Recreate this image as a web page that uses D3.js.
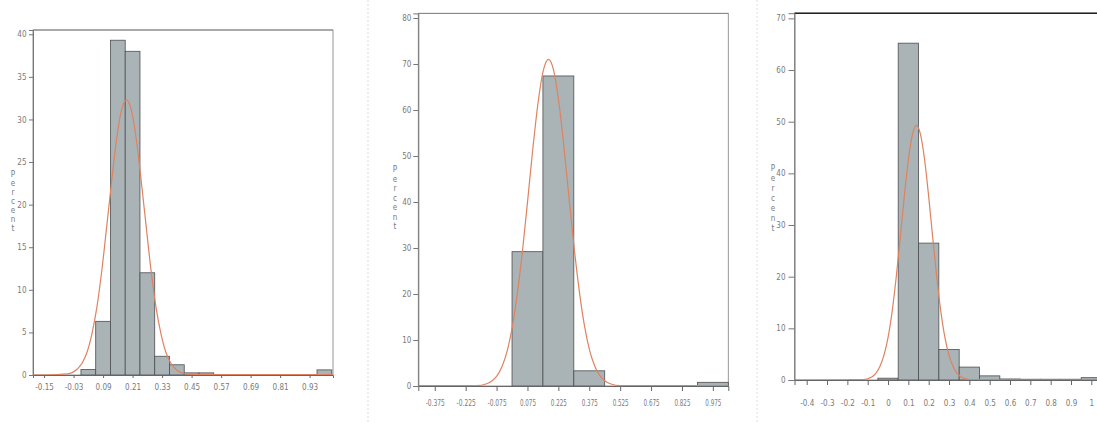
<!DOCTYPE html>
<html>
<head>
<meta charset="utf-8">
<script src="https://cdn.jsdelivr.net/npm/d3@7"></script>
<style>
  body { margin: 0; background: #fff; }
  text { font-family: "DejaVu Sans Condensed", "DejaVu Sans", sans-serif; fill: #7a7a7a; }
</style>
</head>
<body>
<svg id="chart" width="1097" height="423"></svg>
<script>
// ---- panel 1 data
const p1Bin = 0.06;
const p1Mid = [0.03, 0.09, 0.15, 0.21, 0.27, 0.33, 0.39, 0.45, 0.51, 0.99];
const p1Pct = [0.65, 6.3, 39.3, 38.0, 12.0, 2.2, 1.2, 0.25, 0.25, 0.6];
const p1CurveX = [-0.195, -0.1, -0.055, -0.015, 0.005, 0.025, 0.045, 0.065, 0.085, 0.105, 0.125, 0.145, 0.165, 0.185,
  0.205, 0.225, 0.245, 0.265, 0.285, 0.305, 0.325, 0.345, 0.365, 0.385, 0.425, 0.5, 1.025];
const p1CurveY = [0, 0.05, 0.13, 0.7, 1.4, 2.7, 4.9, 8.0, 12.3, 17.5, 22.8, 27.7, 31.1, 32.3,
  31.1, 27.7, 22.8, 17.5, 12.3, 8.0, 4.9, 2.7, 1.4, 0.7, 0.13, 0.05, 0.05];
const p1XTicks = [-0.15, -0.03, 0.09, 0.21, 0.33, 0.45, 0.57, 0.69, 0.81, 0.93];
const p1XLabels = ["-0.15", "-0.03", "0.09", "0.21", "0.33", "0.45", "0.57", "0.69", "0.81", "0.93"];
const p1YTicks = [0, 5, 10, 15, 20, 25, 30, 35, 40];

// ---- panel 2 data
const p2Bin = 0.15;
const p2Mid = [0.075, 0.225, 0.375, 0.975];
const p2Pct = [29.2, 67.4, 3.3, 0.8];
const p2CurveX = [-0.455, -0.3, -0.173, -0.123, -0.098, -0.073, -0.048, -0.023, 0.002, 0.027, 0.052, 0.077, 0.102, 0.127,
  0.152, 0.177, 0.202, 0.227, 0.252, 0.277, 0.302, 0.327, 0.352, 0.377, 0.402, 0.427, 0.452, 0.477, 0.527, 0.7, 1.05];
const p2CurveY = [0.1, 0.1, 0.08, 0.5, 1.1, 2.2, 4.3, 7.7, 13.0, 20.5, 29.9, 40.8, 52.0, 61.8,
  68.6, 71.0, 68.6, 61.8, 52.0, 40.8, 29.9, 20.5, 13.0, 7.7, 4.3, 2.2, 1.1, 0.5, 0.08, 0.1, 0.1];
const p2XTicks = [-0.375, -0.225, -0.075, 0.075, 0.225, 0.375, 0.525, 0.675, 0.825, 0.975];
const p2XLabels = ["-0.375", "-0.225", "-0.075", "0.075", "0.225", "0.375", "0.525", "0.675", "0.825", "0.975"];
const p2YTicks = [0, 10, 20, 30, 40, 50, 60, 70, 80];

// ---- panel 3 data
const p3Bin = 0.1;
const p3Mid = [0.0, 0.1, 0.2, 0.3, 0.4, 0.5, 0.6, 0.7, 0.8, 0.9, 1.0];
const p3Pct = [0.35, 65.2, 26.5, 5.9, 2.5, 0.8, 0.2, 0.15, 0.15, 0.15, 0.45];
const p3CurveX = [-0.46, -0.2, -0.12, -0.08, -0.06, -0.04, -0.02, 0.0, 0.02, 0.04, 0.06, 0.08, 0.10, 0.12, 0.14,
  0.16, 0.18, 0.20, 0.22, 0.24, 0.26, 0.28, 0.30, 0.32, 0.34, 0.36, 0.40, 0.6, 1.05];
const p3CurveY = [0, 0.05, 0.1, 0.6, 1.3, 2.6, 4.8, 8.2, 13.2, 19.8, 27.5, 35.5, 42.6, 47.5, 49.3,
  47.5, 42.6, 35.5, 27.5, 19.8, 13.2, 8.2, 4.8, 2.6, 1.3, 0.6, 0.1, 0.05, 0.05];
const p3XTicks = [-0.4, -0.3, -0.2, -0.1, 0, 0.1, 0.2, 0.3, 0.4, 0.5, 0.6, 0.7, 0.8, 0.9, 1];
const p3XLabels = ["-0.4", "-0.3", "-0.2", "-0.1", "0", "0.1", "0.2", "0.3", "0.4", "0.5", "0.6", "0.7", "0.8", "0.9", "1"];
const p3YTicks = [0, 10, 20, 30, 40, 50, 60, 70];

const yLabel = "Percent";

const panels = [
  { bin: p1Bin, mid: p1Mid, pct: p1Pct, cx: p1CurveX, cy: p1CurveY, xt: p1XTicks, xl: p1XLabels, yt: p1YTicks,
    xd: [-0.195, 1.025], xr: [33, 333], yd: [0, 40.5], yr: [375, 30],
    xTick: 3, xPad: 6.5, yTick: 4, yPad: 2.5, squeeze: 0, topColor: "#888", topWidth: 1,
    lx: 13, ly: 177, lstep: 9 },
  { bin: p2Bin, mid: p2Mid, pct: p2Pct, cx: p2CurveX, cy: p2CurveY, xt: p2XTicks, xl: p2XLabels, yt: p2YTicks,
    xd: [-0.455, 1.05], xr: [418.3, 728.3], yd: [0, 81], yr: [386, 13.4],
    xTick: 5, xPad: 9.5, yTick: 5, yPad: 2, squeeze: 3.2, topColor: "#888", topWidth: 1,
    lx: 395, ly: 172, lstep: 9.5 },
  { bin: p3Bin, mid: p3Mid, pct: p3Pct, cx: p3CurveX, cy: p3CurveY, xt: p3XTicks, xl: p3XLabels, yt: p3YTicks,
    xd: [-0.46, 1.05], xr: [794.5, 1101.5], yd: [0, 71], yr: [380, 13.2],
    xTick: 5, xPad: 15, yTick: 6, yPad: 3, squeeze: 0, topColor: "#222", topWidth: 1.6,
    lx: 773, ly: 171, lstep: 10 }
];

const svg = d3.select("#chart");

// faint scan lines between panels
[368, 757].forEach(x => {
  svg.append("line")
    .attr("x1", x).attr("x2", x).attr("y1", 0).attr("y2", 423)
    .attr("stroke", "#dcdcdc").attr("stroke-dasharray", "2,2");
});

panels.forEach(p => {
  const x = d3.scaleLinear().domain(p.xd).range(p.xr);
  const y = d3.scaleLinear().domain(p.yd).range(p.yr);
  const g = svg.append("g");

  // frame
  g.append("rect")
    .attr("x", p.xr[0]).attr("y", p.yr[1])
    .attr("width", p.xr[1] - p.xr[0]).attr("height", p.yr[0] - p.yr[1])
    .attr("fill", "none").attr("stroke", "#8a8a8a").attr("stroke-width", 0.9);
  g.append("line")
    .attr("x1", p.xr[0]).attr("x2", p.xr[1]).attr("y1", p.yr[1]).attr("y2", p.yr[1])
    .attr("stroke", p.topColor).attr("stroke-width", p.topWidth);

  // bars
  g.selectAll("rect.bar")
    .data(p.mid.map((m, i) => ({ m: m, v: p.pct[i] })))
    .enter().append("rect")
    .attr("class", "bar")
    .attr("x", d => x(d.m - p.bin / 2))
    .attr("width", d => x(d.m + p.bin / 2) - x(d.m - p.bin / 2))
    .attr("y", d => y(d.v))
    .attr("height", d => y(0) - y(d.v))
    .attr("fill", "#aab3b6")
    .attr("stroke", "#4d4f50")
    .attr("stroke-width", 0.8);

  // fitted curve
  const line = d3.line()
    .x(d => x(d[0]))
    .y(d => y(d[1]))
    .curve(d3.curveMonotoneX);
  g.append("path")
    .datum(p.cx.map((v, i) => [v, p.cy[i]]))
    .attr("d", line)
    .attr("fill", "none")
    .attr("stroke", "#df8260")
    .attr("stroke-width", 1.2);

  // axes
  const xAxis = g.append("g")
    .attr("transform", `translate(0,${p.yr[0]})`)
    .call(d3.axisBottom(x).tickValues(p.xt).tickFormat((d, i) => p.xl[i])
      .tickSize(p.xTick).tickPadding(p.xPad));
  xAxis.select(".domain").attr("stroke", "#666");
  xAxis.selectAll(".tick line").attr("stroke", "#666");
  xAxis.selectAll("text")
    .attr("font-size", 8).attr("fill", "#7a7a7a")
    .style("font-family", "'DejaVu Sans Condensed', 'DejaVu Sans', sans-serif");
  if (p.squeeze) {
    xAxis.selectAll("text")
      .attr("textLength", (d, i) => p.xl[i].length * p.squeeze)
      .attr("lengthAdjust", "spacingAndGlyphs");
  }

  const yAxis = g.append("g")
    .attr("transform", `translate(${p.xr[0]},0)`)
    .call(d3.axisLeft(y).tickValues(p.yt).tickSize(p.yTick).tickPadding(p.yPad));
  yAxis.select(".domain").attr("stroke", "#777");
  yAxis.selectAll(".tick line").attr("stroke", "#777");
  yAxis.selectAll("text")
    .attr("font-size", 8).attr("fill", "#7a7a7a")
    .style("font-family", "'DejaVu Sans Condensed', 'DejaVu Sans', sans-serif");

  // stacked "Percent" label
  const lab = g.append("text")
    .attr("text-anchor", "middle")
    .attr("font-size", 8)
    .attr("fill", "#888");
  yLabel.split("").forEach((c, i) => {
    lab.append("tspan").attr("x", p.lx).attr("y", p.ly + i * p.lstep).text(c);
  });
});
</script>
</body>
</html>
